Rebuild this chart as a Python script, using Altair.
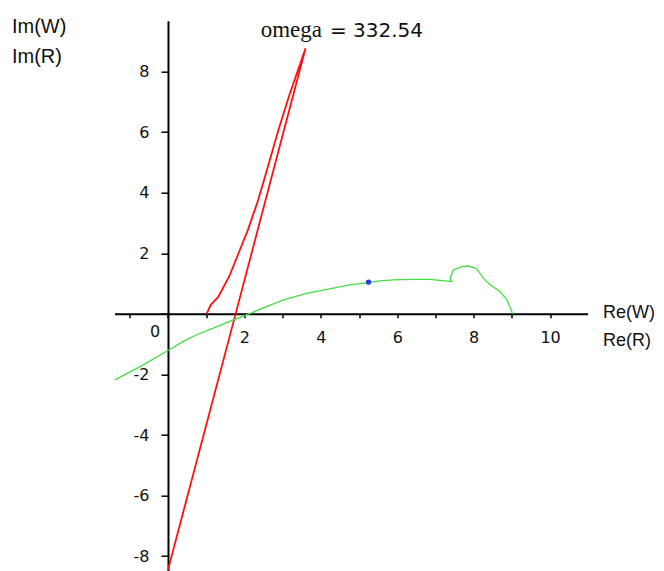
import altair as alt
import pandas as pd

# ---- data ----
red_x = [1.01, 1.12, 1.32, 1.62, 1.88, 2.10, 2.36, 2.49, 2.89, 3.17, 3.60, 1.77, 0.00]
red_y = [0.00, 0.30, 0.57, 1.29, 2.11, 2.80, 3.76, 4.31, 6.07, 7.20, 8.77, 0.00, -8.45]

green_x = [-1.39, -0.73, 0.00, 0.40, 0.75, 1.19, 1.71, 2.06, 2.58, 3.02, 3.63, 4.33, 4.76,
           5.24, 5.55, 5.90, 6.42, 6.86, 7.25, 7.43, 7.38, 7.47, 7.69, 7.86, 8.08, 8.25,
           8.43, 8.69, 8.87, 9.00, 9.02]
green_y = [-2.18, -1.74, -1.21, -0.91, -0.69, -0.47, -0.20, -0.03, 0.24, 0.46, 0.68, 0.85, 0.96,
           1.03, 1.09, 1.12, 1.14, 1.14, 1.09, 1.07, 1.18, 1.45, 1.56, 1.58, 1.49, 1.18,
           0.96, 0.74, 0.46, 0.08, 0.00]

point_x = [5.25]
point_y = [1.05]

x_ticks = list(range(-1, 11))
y_ticks = list(range(-8, 10))

title_left = "omega"
title_right = "= 332.54"
y_titles = ["Im(W)", "Im(R)"]
x_titles = ["Re(W)", "Re(R)"]

# ---- layout ----
x_dom = [-1.40, 10.98]
y_dom = [-8.48, 9.68]
W = 473
H = 550
off_x_axis = -H * (0 - y_dom[0]) / (y_dom[1] - y_dom[0])
off_y_axis = -W * (0 - x_dom[0]) / (x_dom[1] - x_dom[0])

red = pd.DataFrame({"x": red_x, "y": red_y, "i": list(range(len(red_x)))})
green = pd.DataFrame({"x": green_x, "y": green_y, "i": list(range(len(green_x)))})
pt = pd.DataFrame({"x": point_x, "y": point_y})

lab_expr = "(datum.value % 2 == 0 && datum.value != 0) ? toString(datum.value) : ''"

xenc = alt.X("x:Q", scale=alt.Scale(domain=x_dom, nice=False, zero=False),
             axis=alt.Axis(values=x_ticks, labelExpr=lab_expr, title=None, grid=False,
                           offset=off_x_axis, tickSize=4, tickWidth=1.5, tickColor="black",
                           domainColor="black", domainWidth=2, labelFont="DejaVu Sans",
                           labelFontSize=16, labelColor="#111", labelPadding=12,
                           labelFlush=False, labelOverlap=False))
yenc = alt.Y("y:Q", scale=alt.Scale(domain=y_dom, nice=False, zero=False),
             axis=alt.Axis(values=y_ticks, labelExpr=lab_expr, title=None, grid=False,
                           offset=off_y_axis, tickSize=7, tickWidth=1.5, tickColor="black",
                           domainColor="black", domainWidth=2, labelFont="DejaVu Sans",
                           labelFontSize=16, labelColor="#111", labelPadding=12,
                           labelFlush=False, labelOverlap=False))

red_line = alt.Chart(red).mark_line(color="#ff1010", strokeWidth=1.8, clip=True).encode(
    x=xenc, y=yenc, order="i:Q")
green_line = alt.Chart(green).mark_line(color="#44dd44", strokeWidth=1.3).encode(
    x="x:Q", y="y:Q", order="i:Q")
blue_pt = alt.Chart(pt).mark_point(filled=True, color="#1f3fd0", size=28, opacity=1).encode(
    x="x:Q", y="y:Q")

zero_lab = alt.Chart(pd.DataFrame({"x": [0], "y": [0], "t": ["0"]})).mark_text(
    font="DejaVu Sans", fontSize=16, color="#111", dx=-13, dy=18, baseline="middle", align="center"
).encode(x="x:Q", y="y:Q", text="t:N")


def txt(s, x, y, font, size, align="left"):
    return alt.Chart(pd.DataFrame({"t": [s]})).mark_text(
        font=font, fontSize=size, color="#111", align=align, baseline="alphabetic"
    ).encode(x=alt.value(x), y=alt.value(y), text="t:N")


texts = [
    txt(title_left, 207.5, 16.8, "Liberation Serif", 23, "right"),
    txt(title_right, 215.5, 16.8, "DejaVu Sans", 20, "left"),
    txt(y_titles[0], -102.5, 12.6, "Liberation Sans", 20),
    txt(y_titles[1], -102.5, 42.6, "Liberation Sans", 20),
    txt(x_titles[0], 488.5, 297.8, "Liberation Sans", 18),
    txt(x_titles[1], 488.5, 325.8, "Liberation Sans", 18),
]

chart = alt.layer(red_line, green_line, blue_pt, zero_lab, *texts).properties(
    width=W, height=H,
    autosize=alt.AutoSizeParams(type="none"),
    padding={"left": 106.5, "top": 12.7, "right": 68.5, "bottom": 0},
    background="white",
).configure_view(strokeWidth=0)

chart.save("out.html", embed_options={"renderer": "svg", "actions": False})
